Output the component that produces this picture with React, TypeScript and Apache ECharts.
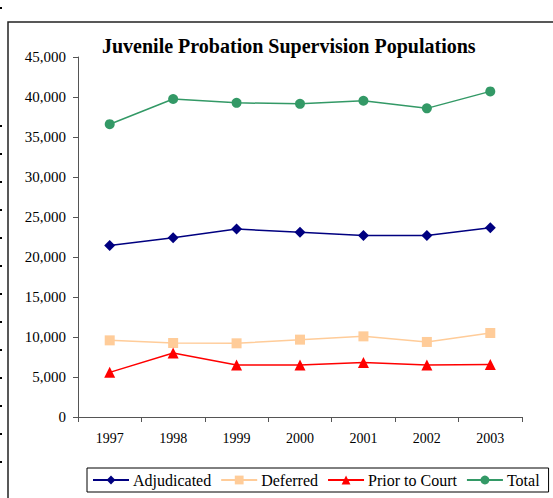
import React, { useEffect, useRef } from "react";
import * as echarts from "echarts";

const years = ["1997", "1998", "1999", "2000", "2001", "2002", "2003"];
const adjudicated = [21450, 22420, 23500, 23080, 22700, 22700, 23670];
const deferred = [9580, 9250, 9210, 9670, 10080, 9380, 10500];
const priorToCourt = [5580, 8000, 6500, 6500, 6800, 6500, 6550];
const total = [36600, 39750, 39270, 39150, 39530, 38580, 40700];
const edgeDots = [7, 125, 153, 181, 209, 237, 265, 293, 321, 349, 377, 405, 433, 461];

const FONT = "'Liberation Serif', 'Times New Roman', serif";

export default function App() {
  const ref = useRef<HTMLDivElement>(null);
  useEffect(() => {
    if (!ref.current) return;
    const chart = echarts.init(ref.current, undefined, { renderer: "svg" });
    const mk = (name: string, data: number[], color: string, symbol: string, size: number) => ({
      name,
      type: "line",
      data,
      symbol,
      symbolSize: size,
      lineStyle: { color, width: 1.5 },
      itemStyle: { color },
      emphasis: { disabled: true },
    });
    chart.setOption({
      animation: false,
      backgroundColor: "#fff",
      textStyle: { fontFamily: FONT },
      title: {
        text: "Juvenile Probation Supervision Populations",
        left: 102,
        top: 36,
        padding: 0,
        textStyle: { fontFamily: FONT, fontWeight: "bold", fontSize: 20, color: "#000" },
      },
      grid: { left: 78, right: 31, top: 57, bottom: 81 },
      xAxis: {
        type: "category",
        data: years,
        boundaryGap: true,
        axisLine: { lineStyle: { color: "#555", width: 1 } },
        axisTick: { show: true, length: 5, alignWithLabel: false, lineStyle: { color: "#555" } },
        axisLabel: { fontFamily: FONT, fontSize: 14, color: "#000", margin: 14 },
        splitLine: { show: false },
      },
      yAxis: {
        type: "value",
        min: 0,
        max: 45000,
        interval: 5000,
        axisLine: { show: true, lineStyle: { color: "#555", width: 1 } },
        axisTick: { show: true, length: 5, lineStyle: { color: "#555" } },
        axisLabel: {
          fontFamily: FONT,
          fontSize: 15,
          color: "#000",
          margin: 12,
          formatter: (v: number) => v.toLocaleString("en-US"),
        },
        splitLine: { show: false },
      },
      legend: {
        left: 87,
        top: 468,
        padding: [4, 9, 4, 5],
        itemGap: 9,
        itemWidth: 36,
        itemHeight: 11,
        borderColor: "#000",
        borderWidth: 1,
        textStyle: { fontFamily: FONT, fontSize: 16, color: "#000", padding: [0, 0, 0, -1] },
        data: ["Adjudicated", "Deferred", "Prior to Court", "Total"],
      },
      series: [
        mk("Adjudicated", adjudicated, "#000080", "diamond", 11),
        mk("Deferred", deferred, "#FFCC99", "rect", 10),
        mk("Prior to Court", priorToCourt, "#FF0000", "triangle", 11),
        mk("Total", total, "#339966", "circle", 10),
      ],
      graphic: [
        {
          type: "rect",
          shape: { x: 8, y: 22, width: 600, height: 600 },
          style: { fill: "none", stroke: "#222", lineWidth: 1.5 },
          silent: true,
        },
        ...edgeDots.map((y) => ({
          type: "rect",
          shape: { x: 0, y, width: 2, height: 2 },
          style: { fill: "#000" },
          silent: true,
        })),
      ],
    });
    return () => chart.dispose();
  }, []);
  return (
    <div
      ref={ref}
      style={{ position: "fixed", left: 0, top: 0, width: 553, height: 498 }}
    />
  );
}
